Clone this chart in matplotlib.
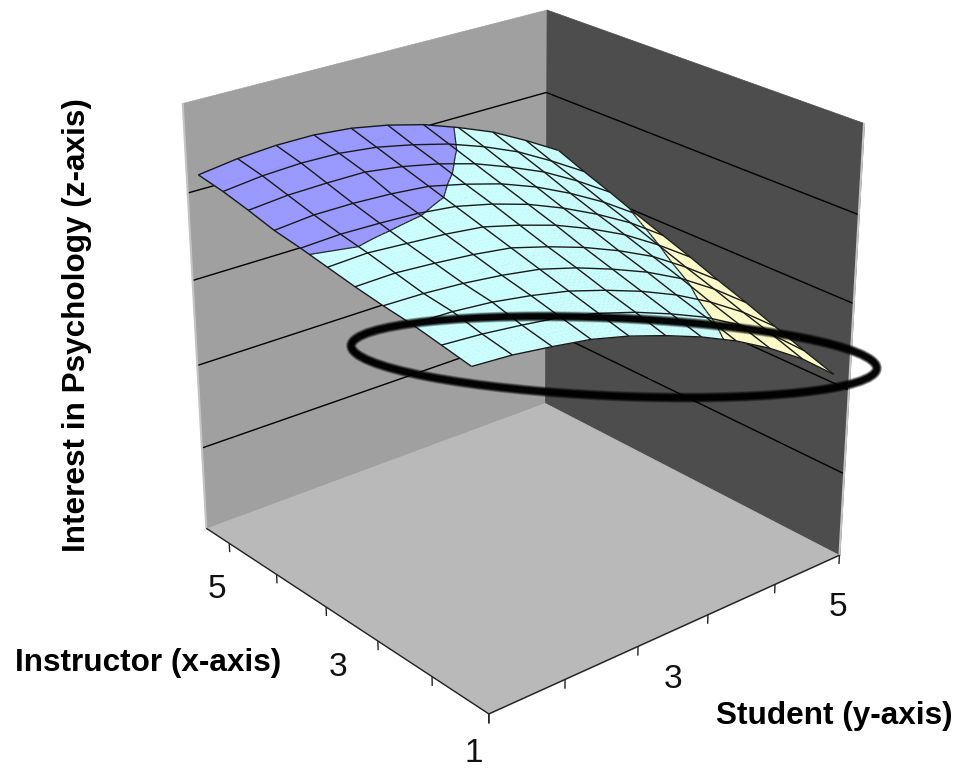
import numpy as np
import matplotlib
matplotlib.use('Agg')
import matplotlib.pyplot as plt
from matplotlib.patches import Ellipse
from mpl_toolkits.mplot3d.art3d import Poly3DCollection, Line3DCollection

plt.rcParams['font.family'] = ['Liberation Sans', 'DejaVu Sans']

# data
instructor = [1.0, 1.4, 1.8, 2.2, 2.6, 3.0, 3.4, 3.8, 4.2, 4.6, 5.0]
student = [1.0, 1.4, 1.8, 2.2, 2.6, 3.0, 3.4, 3.8, 4.2, 4.6, 5.0]
# rows = instructor, columns = student
interest = [
    [3.69, 3.66, 3.60, 3.53, 3.42, 3.28, 3.12, 2.93, 2.70, 2.43, 2.10],
    [3.75, 3.72, 3.67, 3.61, 3.51, 3.38, 3.22, 3.04, 2.81, 2.55, 2.22],
    [3.81, 3.80, 3.76, 3.69, 3.60, 3.47, 3.32, 3.14, 2.92, 2.66, 2.35],
    [3.85, 3.84, 3.81, 3.76, 3.69, 3.57, 3.42, 3.25, 3.04, 2.78, 2.48],
    [3.90, 3.91, 3.88, 3.84, 3.78, 3.66, 3.52, 3.35, 3.15, 2.89, 2.60],
    [3.96, 3.98, 3.95, 3.92, 3.87, 3.76, 3.63, 3.46, 3.26, 3.01, 2.73],
    [4.02, 4.04, 4.03, 4.01, 3.96, 3.86, 3.73, 3.56, 3.36, 3.13, 2.85],
    [4.07, 4.11, 4.11, 4.09, 4.05, 3.95, 3.83, 3.67, 3.47, 3.24, 2.97],
    [4.15, 4.19, 4.20, 4.20, 4.14, 4.05, 3.93, 3.77, 3.59, 3.36, 3.10],
    [4.22, 4.27, 4.29, 4.28, 4.23, 4.14, 4.03, 3.88, 3.70, 3.47, 3.22],
    [4.27, 4.33, 4.36, 4.36, 4.32, 4.24, 4.13, 3.98, 3.81, 3.59, 3.35],
]
z_gridlines = [1, 2, 3, 4]
x_ticks = [0.8, 1.6, 2.4, 3.2, 4.0, 4.8]
y_ticks = [1.0, 1.8, 2.6, 3.4, 4.2, 5.0]
band_levels = [3, 4]
band_colors = ['#ffffcc', '#ccffff', '#9999ff']

X_LOW, X_HIGH = 0.8, 5.2
Y_LOW, Y_HIGH = 1.0, 5.0
Z_LOW, Z_HIGH = 0.0, 5.0
W, H = 959, 769


def clip_poly(pts, level, keep_above):
    # cut a polygon at z = level
    out = []
    for k in range(len(pts)):
        a, b = pts[k], pts[(k + 1) % len(pts)]
        a_in = a[2] >= level if keep_above else a[2] <= level
        b_in = b[2] >= level if keep_above else b[2] <= level
        if a_in:
            out.append(a)
        if a_in != b_in:
            t = (level - a[2]) / (b[2] - a[2])
            out.append(tuple(a[n] + t * (b[n] - a[n]) for n in range(3)))
    return out


fig = plt.figure(figsize=(W / 100, H / 100), dpi=100)
ax = fig.add_axes([125 / W, 39 / H, H / W, 1.0], projection='3d', computed_zorder=False)
ax.set_proj_type('persp', focal_length=0.64)
ax.view_init(elev=24.5, azim=-40)
ax.set_xlim(X_HIGH, X_LOW)
ax.set_ylim(Y_LOW, Y_HIGH)
ax.set_zlim(Z_LOW, Z_HIGH)
ax.set_box_aspect((1, 1, 1.01), zoom=1.022)
ax.set_axis_off()
ax.patch.set_alpha(0)

# walls and floor
left_wall = [(X_HIGH, Y_LOW, Z_LOW), (X_HIGH, Y_HIGH, Z_LOW), (X_HIGH, Y_HIGH, Z_HIGH), (X_HIGH, Y_LOW, Z_HIGH)]
right_wall = [(X_LOW, Y_HIGH, Z_LOW), (X_HIGH, Y_HIGH, Z_LOW), (X_HIGH, Y_HIGH, Z_HIGH), (X_LOW, Y_HIGH, Z_HIGH)]
floor = [(X_LOW, Y_LOW, Z_LOW), (X_HIGH, Y_LOW, Z_LOW), (X_HIGH, Y_HIGH, Z_LOW), (X_LOW, Y_HIGH, Z_LOW)]
ax.add_collection3d(Poly3DCollection([left_wall], facecolors='#a0a0a0', edgecolors='#a0a0a0', linewidths=0.5, zorder=1))
ax.add_collection3d(Poly3DCollection([right_wall], facecolors='#4d4d4d', edgecolors='#4d4d4d', linewidths=0.5, zorder=1))
ax.add_collection3d(Poly3DCollection([floor], facecolors='#b9b9b9', edgecolors='#b9b9b9', linewidths=0.5, zorder=1))

# wall gridlines
grid_segs = []
for z in z_gridlines:
    grid_segs.append([(X_HIGH, Y_LOW, z), (X_HIGH, Y_HIGH, z)])
    grid_segs.append([(X_HIGH, Y_HIGH, z), (X_LOW, Y_HIGH, z)])
ax.add_collection3d(Line3DCollection(grid_segs, colors='black', linewidths=1.0, zorder=2))

# wall edges, light strips
ax.add_collection3d(Line3DCollection(
    [[(X_HIGH, Y_LOW, Z_LOW), (X_HIGH, Y_LOW, Z_HIGH)], [(X_LOW, Y_HIGH, Z_LOW), (X_LOW, Y_HIGH, Z_HIGH)]],
    colors='#c4c4c4', linewidths=1.5, zorder=2))

# floor edges and ticks
tick_segs = [[(X_LOW, Y_LOW, Z_LOW), (X_HIGH, Y_LOW, Z_LOW)], [(X_LOW, Y_LOW, Z_LOW), (X_LOW, Y_HIGH, Z_LOW)]]
for t in x_ticks:
    tick_segs.append([(t, Y_LOW, Z_LOW), (t, Y_LOW, Z_LOW - 0.11)])
for t in y_ticks:
    tick_segs.append([(X_LOW, t, Z_LOW), (X_LOW, t, Z_LOW - 0.11)])
ax.add_collection3d(Line3DCollection(tick_segs, colors='#222222', linewidths=1.0, zorder=2))

# surface split into colour bands, cells cut finer so the band edges come out smooth
xs = np.array(instructor)
ys = np.array(student)
zs = np.array(interest)
fine_x = np.linspace(xs[0], xs[-1], 81)
fine_y = np.linspace(ys[0], ys[-1], 81)
tmp = np.array([np.interp(fine_y, ys, row) for row in zs])
fine_z = np.array([np.interp(fine_x, xs, col) for col in tmp.T]).T

polys, face, band_segs = [], [], []
for i in range(len(fine_x) - 1):
    for j in range(len(fine_y) - 1):
        quad = [(fine_x[i], fine_y[j], fine_z[i, j]), (fine_x[i + 1], fine_y[j], fine_z[i + 1, j]),
                (fine_x[i + 1], fine_y[j + 1], fine_z[i + 1, j + 1]), (fine_x[i], fine_y[j + 1], fine_z[i, j + 1])]
        edges = [-np.inf] + band_levels + [np.inf]
        for b in range(len(band_colors)):
            part = clip_poly(quad, edges[b], True)
            if part:
                part = clip_poly(part, edges[b + 1], False)
            if len(part) >= 3:
                polys.append(part)
                face.append(band_colors[b])
        for level in band_levels:
            cross = []
            for k in range(4):
                a, c = quad[k], quad[(k + 1) % 4]
                if (a[2] >= level) != (c[2] >= level):
                    t = (level - a[2]) / (c[2] - a[2])
                    cross.append(tuple(a[n] + t * (c[n] - a[n]) for n in range(3)))
            if len(cross) >= 2:
                band_segs.append(cross[:2])

ax.add_collection3d(Poly3DCollection(polys, facecolors=face, edgecolors=face, linewidths=0.4, zorder=3))
ax.add_collection3d(Line3DCollection(band_segs, colors='#222222', linewidths=0.9, zorder=4))

# surface wireframe
wire = []
for i in range(len(xs)):
    wire.append([(xs[i], ys[j], zs[i, j]) for j in range(len(ys))])
for j in range(len(ys)):
    wire.append([(xs[i], ys[j], zs[i, j]) for i in range(len(xs))])
ax.add_collection3d(Line3DCollection(wire, colors='#1a1a1a', linewidths=1.0, zorder=5))

# overlay in pixel coordinates: the hand drawn ring and the text
over = fig.add_axes([0, 0, 1, 1])
over.set_xlim(0, W)
over.set_ylim(H, 0)
over.axis('off')
over.patch.set_alpha(0)
for lw, a in [(7.5, 0.25), (6.5, 0.35), (5.5, 0.5), (4.2, 0.9)]:
    over.add_patch(Ellipse((614, 357), 526, 78, angle=2.5, fill=False, edgecolor='black', linewidth=lw, alpha=a))

over.text(77, 325, 'Interest in Psychology (z-axis)', rotation=90, ha='center', va='center',
          fontsize=22.7, fontweight='bold', color='black')
over.text(148, 663, 'Instructor (x-axis)', ha='center', va='center', fontsize=22.7, fontweight='bold')
over.text(834, 716, 'Student (y-axis)', ha='center', va='center', fontsize=22.7, fontweight='bold')
for lab, px, py in [('5', 217, 589), ('3', 338, 668), ('1', 474, 753), ('3', 673, 679), ('5', 838, 607)]:
    over.text(px, py, lab, ha='center', va='center', fontsize=24, color='#111111')

plt.savefig('out.png', dpi=100)
